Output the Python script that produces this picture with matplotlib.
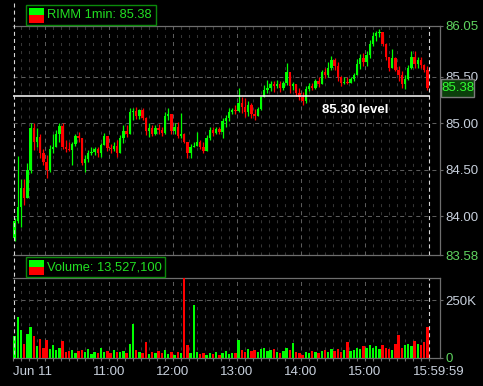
import matplotlib
matplotlib.use("Agg")
import matplotlib.pyplot as plt
from matplotlib.patches import Rectangle
from matplotlib.lines import Line2D
import numpy as np

plt.rcParams["font.family"] = ["Liberation Sans", "DejaVu Sans"]
plt.rcParams["lines.scale_dashes"] = False

# RIMM, Jun 11 -- 3 minute bars from 9:30 to 16:00
first_open = 83.76
close = [
    83.95, 84.10, 84.30, 84.20, 84.50, 84.95, 84.80, 84.85, 84.68, 84.58,
    84.50, 84.72, 84.75, 84.88, 84.97, 84.75, 84.72, 84.71, 84.78, 84.86,
    84.84, 84.57, 84.62, 84.68, 84.69, 84.72, 84.68, 84.77, 84.86, 84.73,
    84.72, 84.76, 84.68, 84.84, 84.92, 84.88, 85.12, 85.13, 85.08, 85.14,
    85.06, 84.92, 84.95, 84.88, 84.95, 84.93, 84.90, 85.08, 85.10, 84.92,
    84.96, 84.86, 84.88, 84.80, 84.68, 84.75, 84.76, 84.80, 84.74, 84.70,
    84.84, 84.93, 84.90, 84.94, 84.91, 85.02, 85.06, 85.12, 85.14, 85.13,
    85.22, 85.18, 85.12, 85.20, 85.10, 85.08, 85.16, 85.28, 85.36, 85.38,
    85.42, 85.40, 85.42, 85.38, 85.44, 85.55, 85.40, 85.42, 85.33, 85.28,
    85.24, 85.37, 85.40, 85.38, 85.46, 85.42, 85.55, 85.52, 85.60, 85.68,
    85.62, 85.50, 85.44, 85.45, 85.44, 85.48, 85.52, 85.64, 85.70, 85.66,
    85.74, 85.86, 85.94, 85.97, 85.99, 85.86, 85.72, 85.60, 85.70, 85.58,
    85.52, 85.42, 85.48, 85.60, 85.72, 85.64, 85.68, 85.63, 85.58, 85.38,
]
high = [
    83.98, 84.65, 84.40, 84.40, 84.57, 85.00, 85.00, 84.95, 84.88, 84.72,
    84.66, 84.77, 84.88, 84.93, 85.00, 85.00, 84.82, 84.80, 84.80, 84.88,
    84.91, 84.84, 84.66, 84.71, 84.74, 84.74, 84.74, 84.79, 84.90, 84.86,
    84.78, 84.80, 84.82, 84.87, 84.98, 84.98, 85.17, 85.17, 85.18, 85.16,
    85.17, 85.07, 85.00, 84.98, 84.98, 84.99, 84.96, 85.12, 85.17, 85.08,
    85.00, 85.01, 85.11, 84.90, 84.79, 84.78, 84.80, 84.91, 84.82, 84.80,
    84.87, 84.96, 84.96, 84.96, 84.96, 85.06, 85.09, 85.17, 85.17, 85.20,
    85.38, 85.28, 85.27, 85.24, 85.22, 85.16, 85.18, 85.30, 85.41, 85.47,
    85.46, 85.46, 85.47, 85.46, 85.46, 85.65, 85.52, 85.45, 85.42, 85.38,
    85.34, 85.40, 85.44, 85.44, 85.48, 85.50, 85.58, 85.60, 85.66, 85.73,
    85.70, 85.66, 85.51, 85.50, 85.50, 85.50, 85.54, 85.69, 85.75, 85.76,
    85.78, 85.90, 85.98, 86.00, 86.02, 85.96, 85.87, 85.72, 85.80, 85.72,
    85.62, 85.56, 85.52, 85.63, 85.78, 85.78, 85.72, 85.72, 85.64, 85.62,
]
low = [
    83.73, 83.93, 83.88, 84.12, 84.20, 84.46, 84.71, 84.75, 84.63, 84.55,
    84.41, 84.48, 84.68, 84.75, 84.80, 84.72, 84.69, 84.70, 84.55, 84.76,
    84.80, 84.55, 84.48, 84.58, 84.66, 84.66, 84.64, 84.64, 84.77, 84.70,
    84.68, 84.70, 84.64, 84.68, 84.79, 84.85, 84.88, 85.04, 85.05, 85.05,
    85.04, 84.87, 84.85, 84.86, 84.87, 84.88, 84.86, 84.88, 85.04, 84.88,
    84.88, 84.84, 84.84, 84.79, 84.63, 84.63, 84.74, 84.76, 84.72, 84.68,
    84.70, 84.82, 84.86, 84.88, 84.88, 84.84, 84.96, 85.02, 85.10, 85.10,
    85.12, 85.11, 85.07, 85.08, 85.06, 85.04, 85.08, 85.14, 85.28, 85.33,
    85.35, 85.34, 85.38, 85.34, 85.36, 85.41, 85.33, 85.36, 85.30, 85.25,
    85.20, 85.22, 85.35, 85.36, 85.37, 85.39, 85.42, 85.49, 85.50, 85.58,
    85.58, 85.46, 85.40, 85.42, 85.42, 85.44, 85.46, 85.52, 85.59, 85.62,
    85.62, 85.71, 85.83, 85.89, 85.93, 85.83, 85.68, 85.56, 85.60, 85.56,
    85.46, 85.38, 85.37, 85.47, 85.59, 85.60, 85.60, 85.60, 85.55, 85.36,
]
# volume per bar, thousands of shares
volume_k = [
    95, 175, 120, 60, 103, 132, 96, 50, 82, 45,
    79, 40, 55, 35, 45, 75, 25, 30, 35, 20,
    30, 35, 28, 40, 18, 25, 22, 42, 25, 30,
    20, 35, 25, 28, 30, 22, 60, 147, 35, 25,
    20, 70, 18, 25, 20, 30, 22, 35, 18, 25,
    15, 28, 20, 360, 56, 20, 228, 25, 18, 22,
    15, 20, 18, 25, 15, 20, 30, 18, 22, 20,
    78, 35, 25, 40, 30, 35, 25, 40, 45, 30,
    35, 40, 25, 20, 30, 45, 35, 65, 25, 20,
    15, 25, 20, 30, 25, 20, 30, 35, 25, 40,
    30, 40, 25, 35, 69, 30, 35, 45, 40, 50,
    45, 55, 45, 50, 40, 55, 45, 40, 35, 60,
    100, 45, 55, 60, 50, 75, 60, 55, 70, 135,
]

bar_minutes = 3
session_minutes = 390
symbol_label = "RIMM 1min: 85.38"
volume_label = "Volume: 13,527,100"
last_price = 85.38
level_price = 85.30
level_label = "85.30 level"
price_min, price_max = 83.58, 86.05
price_grid = [84.00, 84.50, 85.00, 85.50]
vol_max_k = 345
vol_grid_k = [250]
time_labels = ["Jun 11", "11:00", "12:00", "13:00", "14:00", "15:00", "15:59:59"]
time_pos = [0, 90, 150, 210, 270, 330, 390]   # minutes after 9:30
hour_lines = [30, 90, 150, 210, 270, 330]

GREEN = "#00ff00"
RED = "#ff0000"
EDGE = "#6e6e6e"
LABEL = "#c8d0dc"
LABEL_GREEN = "#5fd35f"

W, H = 483, 386


def fx(x):
    return x / W


def fy(y):
    return 1 - y / H


fig = plt.figure(figsize=(W / 100, H / 100), dpi=100, facecolor="black")
pax = fig.add_axes([fx(13), fy(255), 427 / W, 229 / H], facecolor="black")
vax = fig.add_axes([fx(13), fy(358), 427 / W, 80 / H], facecolor="black")

opens = np.array([first_open] + close[:-1])
closes = np.array(close)
xs = np.arange(len(close)) * bar_minutes + bar_minutes / 2
colors = np.where(closes >= opens, GREEN, RED)

xmax = session_minutes * 427 / 416
minor = [m for m in np.arange(7.5, session_minutes, 7.5) if m not in hour_lines]

for ax in (pax, vax):
    ax.set_xlim(0, xmax)
    for m in minor:
        ax.axvline(m, color="#353535", lw=0.75, dashes=(2.2, 3.6), zorder=0)
    for m in hour_lines:
        ax.axvline(m, color="#5c5c5c", lw=0.75, dashes=(2.9, 2.9), zorder=0)
    ax.axvline(session_minutes, color="#d8d8d8", lw=0.8, dashes=(2.9, 2.2), zorder=1)
    for s in ("top", "right", "bottom"):
        ax.spines[s].set_color(EDGE)
        ax.spines[s].set_linewidth(0.9)
    ax.spines["left"].set_visible(False)
    ax.yaxis.tick_right()
    ax.tick_params(axis="y", colors=EDGE, length=2.2, width=0.8, pad=1.5,
                   labelsize=9.5)

# price panel
pax.set_ylim(price_min, price_max)
for p in price_grid:
    pax.axhline(p, color="#5c5c5c", lw=0.75, dashes=(2.9, 2.9), zorder=0)
pax.vlines(xs, low, high, colors=colors, lw=0.9, zorder=3)
pax.bar(xs, closes - opens, bottom=opens, width=2.2, color=colors, zorder=3)
pax.axhline(level_price, xmax=session_minutes / xmax, color="white", lw=1.1, zorder=4)
pax.text(290, 85.145, level_label, color="white", fontsize=9.5,
         fontweight="bold", va="center", ha="left", zorder=5)
pax.set_xticks([])
yt = [price_min] + price_grid + [price_max]
pax.set_yticks(yt)
pax.set_yticklabels(["%.2f" % v for v in yt])
for lab, v in zip(pax.get_yticklabels(), yt):
    lab.set_color(LABEL_GREEN if v in (price_min, price_max) else LABEL)

# volume panel
vax.set_ylim(0, vol_max_k)
for v in vol_grid_k:
    vax.axhline(v, color="#5c5c5c", lw=0.75, dashes=(2.9, 2.9), zorder=0)
vax.bar(xs, volume_k, width=2.2, color=colors, zorder=3)
vax.set_yticks([0] + vol_grid_k)
vax.set_yticklabels(["0"] + ["%dK" % v for v in vol_grid_k])
for lab, v in zip(vax.get_yticklabels(), [0] + vol_grid_k):
    lab.set_color(LABEL_GREEN if v == 0 else LABEL)
vax.set_xticks(np.arange(0, session_minutes + 1, 7.5))
vax.tick_params(axis="x", colors=EDGE, length=2.5, width=0.8, labelbottom=False)
for i, (pos, lab) in enumerate(zip(time_pos, time_labels)):
    ha = "left" if i == 0 else "center"
    dx = 10 if i == len(time_labels) - 1 else 0
    vax.annotate(lab, (pos, 0), xycoords=("data", "axes fraction"),
                 xytext=(dx, -14), textcoords="offset pixels",
                 ha=ha, va="center", color=LABEL, fontsize=9.5,
                 annotation_clip=False)

# session start line across both panels
fig.add_artist(Line2D([fx(13.5), fx(13.5)], [fy(3), fy(358)], color="#d8d8d8",
                      lw=0.8, dashes=(2.9, 2.2)))


def legend_box(x0, y0, x1, y1, text):
    fig.add_artist(Rectangle((fx(x0), fy(y1)), fx(x1) - fx(x0), fy(y0) - fy(y1),
                             facecolor="black", edgecolor="#0b8a0b", lw=1.0))
    fig.add_artist(Rectangle((fx(x0 + 3), fy(y0 + 10)), fx(15), fy(0) - fy(7),
                             facecolor=GREEN, edgecolor="none"))
    fig.add_artist(Rectangle((fx(x0 + 3), fy(y1 - 2)), fx(15), fy(0) - fy(8),
                             facecolor=RED, edgecolor="none"))
    fig.text(fx(x0 + 21), fy((y0 + y1) / 2), text, color="#22e022",
             fontsize=9.3, va="center", ha="left")


legend_box(26, 5, 156, 25, symbol_label)
legend_box(26, 257, 165, 277, volume_label)

# last price marker on the right scale
fig.add_artist(Rectangle((fx(441), fy(97)), fx(33), fy(0) - fy(18),
                         facecolor="#0b3f0b", edgecolor="#7a7a7a", lw=1.0, zorder=10))
fig.text(fx(457.5), fy(88), "%.2f" % last_price, color="#33ff33", fontsize=9.5,
         ha="center", va="center", zorder=11)

fig.savefig("out.png", dpi=100, facecolor="black")
